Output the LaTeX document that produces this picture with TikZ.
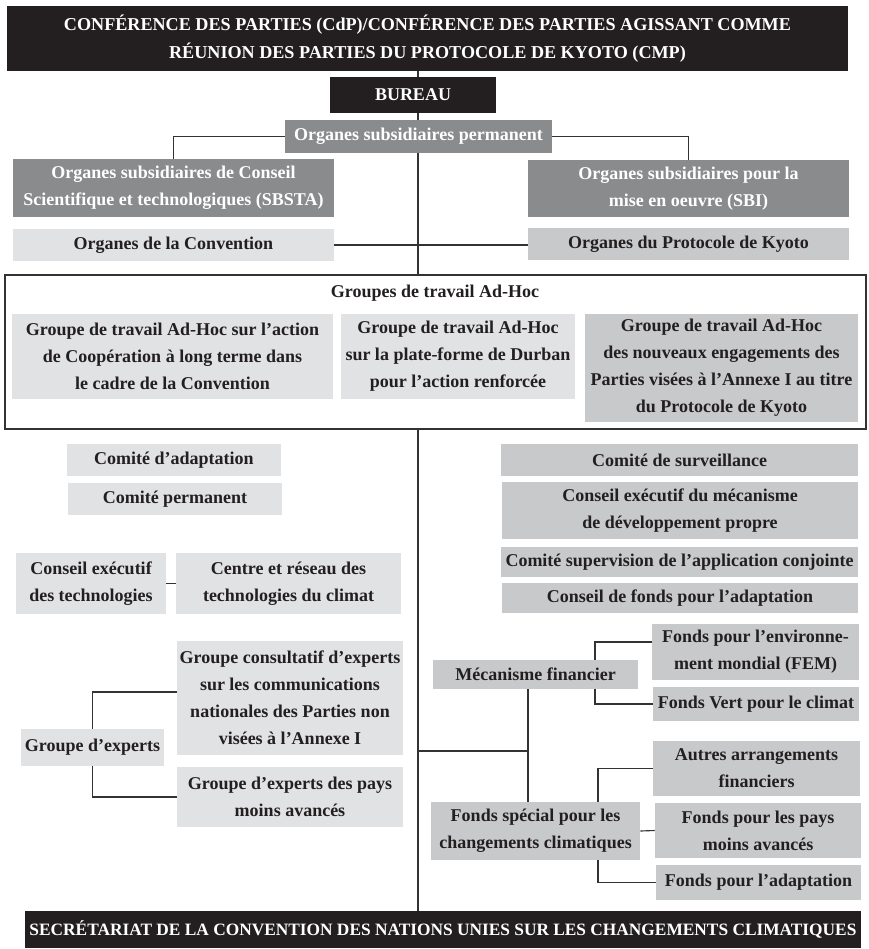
\documentclass[tikz,border=0pt]{standalone}
\usepackage{fontspec}
\setmainfont{Liberation Serif}
\definecolor{cdark}{HTML}{231F20}
\definecolor{cmid}{HTML}{8A8B8D}
\definecolor{clight}{HTML}{E1E2E3}
\definecolor{cmed}{HTML}{C8C9CA}
\definecolor{cline}{HTML}{333333}
\pgfdeclarelayer{bg}
\pgfsetlayers{bg,main}
\newcommand\boxat[7]{\node[#2, minimum width={(#5-#3)*0.75pt}, minimum height={(#6-#4)*0.75pt}] (#1) at ({(#3+#5)/2},{-(#4+#6)/2}) {#7};}
\tikzset{
  bx/.style={rectangle, inner sep=0pt, align=center, draw=none, font=\bfseries\fontsize{13.5pt}{20.3pt}\selectfont},
  darkbx/.style={bx, fill=cdark, text=white},
  midbx/.style={bx, fill=cmid, text=white},
  ltbx/.style={bx, fill=clight, text=cdark},
  mdbx/.style={bx, fill=cmed, text=cdark},
  outlinebx/.style={rectangle, inner sep=0pt, draw=cline, line width=0.9pt, fill=white},
  conn/.style={draw=cline, line width=0.85pt},
}
\begin{document}
\begin{tikzpicture}[x=0.75pt,y=0.75pt]
\useasboundingbox (0,0) rectangle (868,-949);
\coordinate (sp) at (418,0);
\coordinate (j) at (528,-751);
\coordinate (b1) at (595,0);
\coordinate (b2) at (598,0);
% top
\boxat{top}{darkbx, font=\bfseries\fontsize{13.6pt}{21pt}\selectfont}{7}{6}{848}{71}{CONFÉRENCE DES PARTIES (CdP)/CONFÉRENCE DES PARTIES AGISSANT COMME\\RÉUNION DES PARTIES DU PROTOCOLE DE KYOTO (CMP)}
\boxat{bureau}{darkbx}{330}{77}{496}{113}{BUREAU}
\boxat{perm}{midbx}{285}{120}{552}{153}{Organes subsidiaires permanent}
\boxat{sbsta}{midbx}{13}{159}{334}{217}{Organes subsidiaires de Conseil\\Scientifique et technologiques (SBSTA)}
\boxat{sbi}{midbx}{528}{160}{849}{217}{Organes subsidiaires pour la\\mise en oeuvre (SBI)}
\boxat{conv}{ltbx}{13}{229}{334}{261}{Organes de la Convention}
\boxat{prot}{mdbx}{528}{228}{849}{260}{Organes du Protocole de Kyoto}
% ad-hoc group
\boxat{adhoc}{outlinebx}{5}{275}{866}{429}{}
\node[bx, text=cdark] (adtitle) at (435,-293) {Groupes de travail Ad-Hoc};
\boxat{in1}{ltbx}{12}{314}{333}{399}{Groupe de travail Ad-Hoc sur l’action\\de Coopération à long terme dans\\le cadre de la Convention}
\boxat{in2}{ltbx}{341}{314}{575}{399}{Groupe de travail Ad-Hoc\\sur la plate-forme de Durban\\pour l’action renforcée}
\boxat{in3}{mdbx}{585}{314}{858}{422}{Groupe de travail Ad-Hoc\\des nouveaux engagements des\\Parties visées à l’Annexe I au titre\\du Protocole de Kyoto}
% lower left
\boxat{cadapt}{ltbx}{67}{444}{281}{476}{Comité d’adaptation}
\boxat{cperm}{ltbx}{68}{483}{282}{515}{Comité permanent}
\boxat{cet}{ltbx}{16}{553}{166}{614}{Conseil exécutif\\des technologies}
\boxat{crtc}{ltbx}{176}{553}{401}{614}{Centre et réseau des\\technologies du climat}
\boxat{gcons}{ltbx}{177}{641}{403}{755}{Groupe consultatif d’experts\\sur les communications\\nationales des Parties non\\visées à l’Annexe I}
\boxat{gexp}{ltbx}{21}{729}{164}{766}{Groupe d’experts}
\boxat{gpma}{ltbx}{177}{767}{403}{827}{Groupe d’experts des pays\\moins avancés}
% lower right
\boxat{csurv}{mdbx}{501}{444}{858}{476}{Comité de surveillance}
\boxat{cemdp}{mdbx}{502}{482}{858}{539}{Conseil exécutif du mécanisme\\de développement propre}
\boxat{csup}{mdbx}{501}{547}{858}{577}{Comité supervision de l’application conjointe}
\boxat{cfad}{mdbx}{502}{583}{858}{613}{Conseil de fonds pour l’adaptation}
\boxat{mec}{mdbx}{433}{660}{638}{689}{Mécanisme financier}
\boxat{fem}{mdbx}{652}{624}{859}{680}{Fonds pour l’environne-\\ment mondial (FEM)}
\boxat{fvert}{mdbx}{653}{687}{859}{721}{Fonds Vert pour le climat}
\boxat{fsc}{mdbx}{431}{802}{640}{860}{Fonds spécial pour les\\changements climatiques}
\boxat{autres}{mdbx}{653}{741}{860}{796}{Autres arrangements\\financiers}
\boxat{fpma}{mdbx}{655}{803}{861}{858}{Fonds pour les pays\\moins avancés}
\boxat{fadapt}{mdbx}{656}{865}{861}{900}{Fonds pour l’adaptation}
% bottom
\boxat{bot}{darkbx, font=\bfseries\fontsize{13pt}{16pt}\selectfont}{25}{911}{861}{948}{SECRÉTARIAT DE LA CONVENTION DES NATIONS UNIES SUR LES CHANGEMENTS CLIMATIQUES}
% connectors
\coordinate (fa) at ([yshift=7.5pt]fem.west);
\coordinate (fg) at ([yshift=4.5pt]gcons.west);
\begin{pgfonlayer}{bg}
\draw[conn] (top.south -| sp) -- (bot.north -| sp);
\draw[conn] (perm.west) -| (sbsta.north);
\draw[conn] (perm.east) -| (sbi.north);
\draw[conn] (conv.east) -- (conv.east -| prot.west);
\draw[conn] (cet.east) -- (crtc.west);
\draw[conn] (gexp.north) |- (fg);
\draw[conn] (gexp.south) |- (gpma.west);
\draw[conn] (j -| sp) -- (j);
\draw[conn] (mec.south -| j) -- (fsc.north -| j);
\draw[conn] (fa) -| (fvert.west -| b1) -- (fvert.west);
\draw[conn] (autres.west) -| (fsc.north -| b2);
\draw[conn] (fsc.south -| b2) |- (fadapt.west);
\draw[conn] (fsc.east) -- (fpma.west);
\end{pgfonlayer}
\end{tikzpicture}
\end{document}
